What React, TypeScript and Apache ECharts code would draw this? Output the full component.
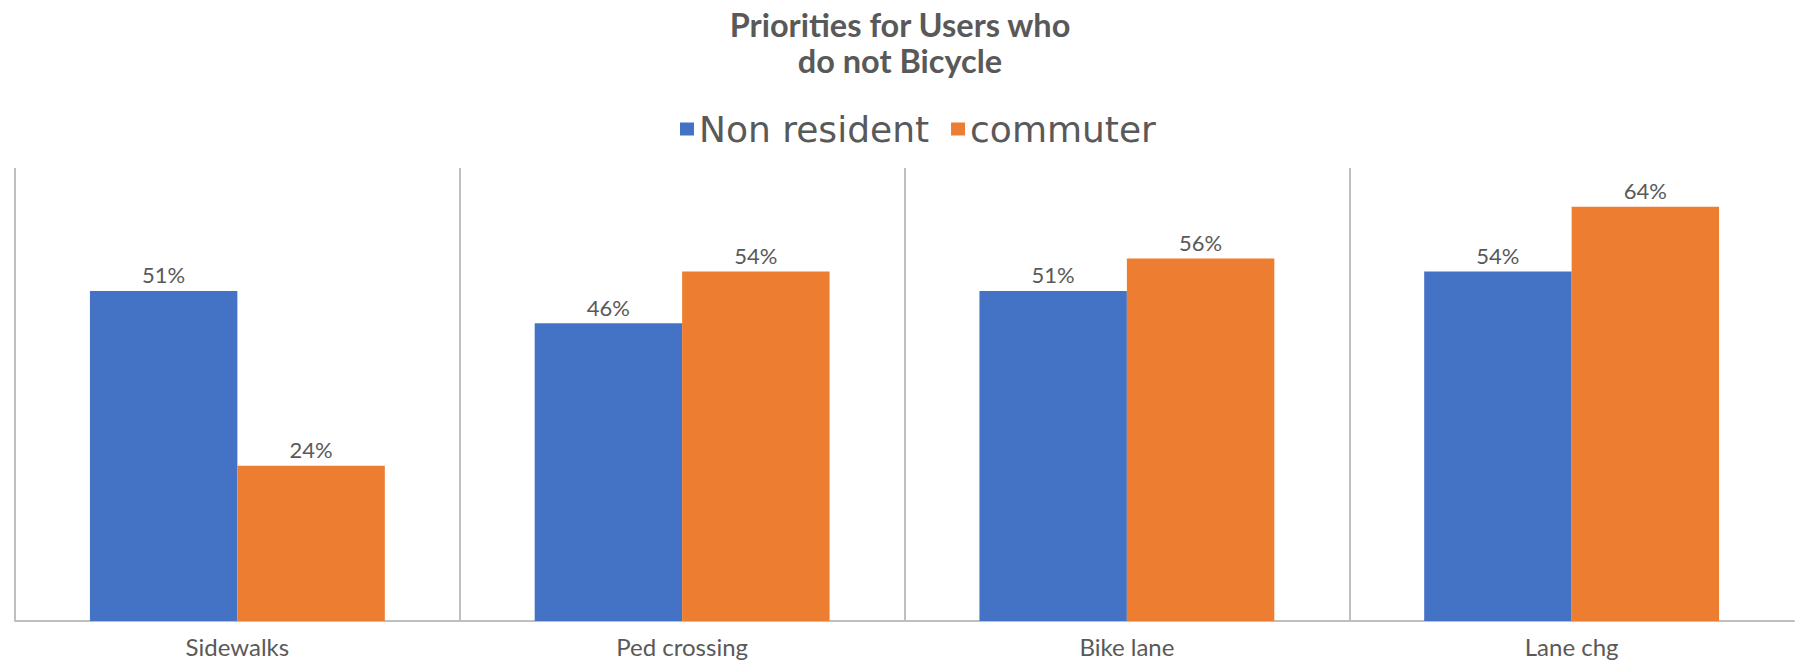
import React, { useEffect, useRef } from "react";
import * as echarts from "echarts";

const categories = ["Sidewalks", "Ped crossing", "Bike lane", "Lane chg"];
const nonResident = [51, 46, 51, 54];
const commuter = [24, 54, 56, 64];
const seriesNames = ["Non resident", "commuter"];
const titleText = "Priorities for Users who\ndo not Bicycle";

export default function App() {
  const ref = useRef<HTMLDivElement>(null);
  useEffect(() => {
    if (!ref.current) return;
    const chart = echarts.init(ref.current, null, { renderer: "svg" });
    const font = "Lato, 'Open Sans', sans-serif";
    const labelStyle = {
      show: true,
      position: "top",
      distance: 5,
      formatter: "{c}%",
      fontSize: 22,
      color: "#595959",
      fontFamily: font,
    };
    chart.setOption({
      animation: false,
      backgroundColor: "#ffffff",
      title: {
        text: titleText,
        left: "center",
        top: 1,
        textStyle: {
          fontFamily: font,
          fontSize: 32.5,
          fontWeight: "bold",
          color: "#595959",
          lineHeight: 36,
        },
      },
      legend: {
        data: seriesNames,
        left: 675,
        top: 106,
        icon: "rect",
        itemWidth: 14,
        itemHeight: 13,
        itemGap: 22,
        textStyle: { fontFamily: "'DejaVu Sans', sans-serif", fontSize: 36, color: "#595959" },
      },
      grid: { left: 15, right: 6, top: 168, bottom: 40, containLabel: false },
      xAxis: {
        type: "category",
        data: categories,
        boundaryGap: true,
        axisLine: { show: true, lineStyle: { color: "#bfbfbf", width: 2 } },
        axisTick: { show: false },
        axisLabel: { fontFamily: font, fontSize: 24, color: "#595959", margin: 13 },
        splitLine: {
          show: true,
          showMinLine: true,
          showMaxLine: false,
          lineStyle: { color: "#bfbfbf", width: 2 },
        },
      },
      yAxis: {
        type: "value",
        min: 0,
        max: 70,
        show: false,
        splitLine: { show: false },
      },
      series: [
        {
          name: seriesNames[0],
          type: "bar",
          data: nonResident,
          barGap: "0%",
          barCategoryGap: "33.7%",
          itemStyle: { color: "#4472C4" },
          label: labelStyle,
        },
        {
          name: seriesNames[1],
          type: "bar",
          data: commuter,
          barGap: "0%",
          barCategoryGap: "33.7%",
          itemStyle: { color: "#ED7D31" },
          label: labelStyle,
        },
      ],
    });
    return () => chart.dispose();
  }, []);
  return (
    <div
      ref={ref}
      style={{ position: "absolute", left: 0, top: 0, width: 1800, height: 661 }}
    />
  );
}
